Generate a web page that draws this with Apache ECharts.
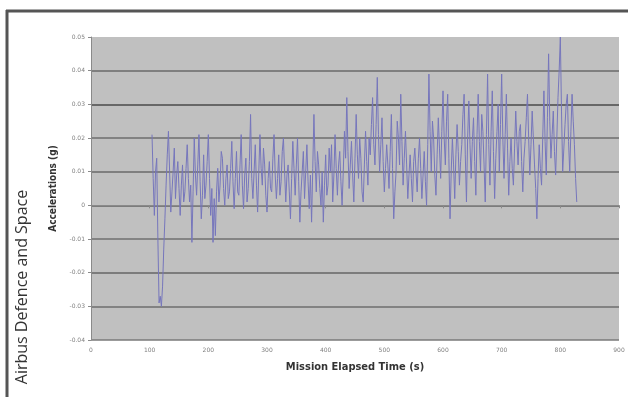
<!DOCTYPE html>
<html>
<head>
<meta charset="utf-8">
<script src="https://cdn.jsdelivr.net/npm/echarts@6/dist/echarts.min.js"></script>
<style>
  html, body { margin: 0; padding: 0; background: #fff; }
  #chart { width: 628px; height: 397px; }
</style>
</head>
<body>
<div id="chart"></div>
<script>
// sample times (s)
const times = [
  104, 106, 108, 110, 112, 114, 116, 118, 120, 122, 124, 126, 128, 130, 132, 134, 136, 138, 140, 142,
  144, 146, 148, 150, 152, 154, 156, 158, 160, 162, 164, 166, 168, 170, 172, 174, 176, 178, 180, 182,
  184, 186, 188, 190, 192, 194, 196, 198, 200, 202, 204, 206, 208, 210, 212, 214, 216, 218, 220, 222,
  224, 226, 228, 230, 232, 234, 236, 238, 240, 242, 244, 246, 248, 250, 252, 254, 256, 258, 260, 262,
  264, 266, 268, 270, 272, 274, 276, 278, 280, 282, 284, 286, 288, 290, 292, 294, 296, 298, 300, 302,
  304, 306, 308, 310, 312, 314, 316, 318, 320, 322, 324, 326, 328, 330, 332, 334, 336, 338, 340, 342,
  344, 346, 348, 350, 352, 354, 356, 358, 360, 362, 364, 366, 368, 370, 372, 374, 376, 378, 380, 382,
  384, 386, 388, 390, 392, 394, 396, 398, 400, 402, 404, 406, 408, 410, 412, 414, 416, 418, 420, 422,
  424, 426, 428, 430, 432, 434, 436, 438, 440, 442, 444, 446, 448, 450, 452, 454, 456, 458, 460, 462,
  464, 466, 468, 470, 472, 474, 476, 478, 480, 482, 484, 486, 488, 490, 492, 494, 496, 498, 500, 502,
  504, 506, 508, 510, 512, 514, 516, 518, 520, 522, 524, 526, 528, 530, 532, 534, 536, 538, 540, 542,
  544, 546, 548, 550, 552, 554, 556, 558, 560, 562, 564, 566, 568, 570, 572, 574, 576, 578, 580, 582,
  584, 586, 588, 590, 592, 594, 596, 598, 600, 602, 604, 606, 608, 610, 612, 614, 616, 618, 620, 622,
  624, 626, 628, 630, 632, 634, 636, 638, 640, 642, 644, 646, 648, 650, 652, 654, 656, 658, 660, 662,
  664, 666, 668, 670, 672, 674, 676, 678, 680, 682, 684, 686, 688, 690, 692, 694, 696, 698, 700, 702,
  704, 706, 708, 710, 712, 714, 716, 718, 720, 722, 724, 726, 728, 730, 732, 734, 736, 738, 740, 742,
  744, 746, 748, 750, 752, 754, 756, 758, 760, 762, 764, 766, 768, 770, 772, 774, 776, 778, 780, 782,
  784, 786, 788, 790, 792, 794, 796, 798, 800, 802, 804, 806, 808, 810, 812, 814, 816, 818, 820, 822,
  824, 826, 828
];

// accelerations (g)
const accel = [
  0.021, 0.008, -0.003, 0.010, 0.014, -0.010, -0.029, -0.027, -0.030, -0.024, -0.013, -0.004, 0.006, 0.015, 0.022, 0.010, -0.002, 0.004, 0.010, 0.017,
  0.002, 0.009, 0.013, 0.005, -0.003, 0.006, 0.012, 0.001, 0.004, 0.011, 0.018, 0.008, 0.001, 0.006, -0.011, 0.004, 0.020, 0.009, 0.003, 0.012,
  0.021, 0.007, -0.004, 0.003, 0.015, 0.002, 0.006, 0.013, 0.021, 0.008, -0.003, 0.005, -0.011, 0.002, -0.009, 0.004, 0.011, 0.001, 0.006, 0.016,
  0.014, 0.005, 0.000, 0.008, 0.012, 0.002, 0.004, 0.011, 0.019, 0.007, -0.001, 0.008, 0.016, 0.004, 0.003, 0.012, 0.021, 0.006, -0.001, 0.009,
  0.014, 0.001, 0.005, 0.013, 0.027, 0.008, 0.002, 0.010, 0.018, 0.006, -0.002, 0.010, 0.021, 0.011, 0.006, 0.017, 0.012, 0.003, -0.002, 0.008,
  0.013, 0.005, 0.004, 0.014, 0.021, 0.009, 0.002, 0.008, 0.015, 0.003, 0.007, 0.016, 0.020, 0.010, 0.001, 0.009, 0.012, 0.004, -0.004, 0.008,
  0.019, 0.011, 0.003, 0.012, 0.020, 0.007, -0.005, 0.004, 0.010, 0.016, 0.002, 0.010, 0.018, 0.007, -0.001, 0.009, -0.005, 0.011, 0.027, 0.013,
  0.004, 0.016, 0.012, 0.005, 0.000, 0.010, -0.005, 0.006, 0.015, 0.003, 0.006, 0.017, 0.010, 0.018, 0.001, 0.009, 0.021, 0.011, 0.003, 0.012,
  0.016, 0.007, 0.000, 0.010, 0.022, 0.014, 0.032, 0.016, 0.005, 0.012, 0.019, 0.009, 0.001, 0.014, 0.027, 0.015, 0.008, 0.020, 0.014, 0.004,
  0.001, 0.012, 0.022, 0.013, 0.006, 0.020, 0.015, 0.024, 0.032, 0.018, 0.012, 0.024, 0.038, 0.021, 0.010, 0.018, 0.026, 0.013, 0.004, 0.011,
  0.018, 0.012, 0.005, 0.016, 0.027, 0.011, -0.004, 0.004, 0.010, 0.025, 0.020, 0.012, 0.033, 0.019, 0.006, 0.014, 0.022, 0.012, 0.002, 0.009,
  0.015, 0.008, 0.001, 0.013, 0.017, 0.010, 0.004, 0.014, 0.020, 0.011, 0.002, 0.009, 0.016, 0.007, 0.000, 0.018, 0.039, 0.022, 0.010, 0.025,
  0.020, 0.009, 0.003, 0.015, 0.026, 0.017, 0.008, 0.022, 0.034, 0.020, 0.012, 0.025, 0.033, 0.014, -0.004, 0.010, 0.020, 0.012, 0.002, 0.015,
  0.024, 0.016, 0.006, 0.013, 0.018, 0.027, 0.033, 0.015, 0.001, 0.020, 0.031, 0.018, 0.008, 0.019, 0.026, 0.013, 0.003, 0.021, 0.033, 0.019,
  0.010, 0.027, 0.022, 0.012, 0.001, 0.021, 0.039, 0.018, 0.006, 0.022, 0.034, 0.016, 0.002, 0.014, 0.022, 0.030, 0.010, 0.024, 0.039, 0.020,
  0.008, 0.021, 0.033, 0.017, 0.003, 0.013, 0.020, 0.011, 0.006, 0.017, 0.028, 0.019, 0.012, 0.022, 0.024, 0.013, 0.004, 0.014, 0.019, 0.026,
  0.033, 0.020, 0.009, 0.018, 0.028, 0.020, 0.012, 0.005, -0.004, 0.008, 0.018, 0.011, 0.006, 0.020, 0.034, 0.019, 0.009, 0.026, 0.045, 0.025,
  0.014, 0.021, 0.028, 0.016, 0.009, 0.020, 0.032, 0.040, 0.050, 0.028, 0.010, 0.017, 0.024, 0.030, 0.033, 0.019, 0.010, 0.022, 0.033, 0.025,
  0.018, 0.008, 0.001
];

const chart = echarts.init(document.getElementById('chart'));

const fmtY = (v) => (Math.abs(v) < 1e-9 ? '0' : v.toFixed(2));

chart.setOption({
  backgroundColor: '#ffffff',
  animation: false,
  grid: {
    left: 91,
    top: 37,
    right: 9,
    bottom: 57,
    show: true,
    backgroundColor: '#c0c0c0',
    borderWidth: 0,
  },
  xAxis: {
    type: 'value',
    min: 0,
    max: 900,
    interval: 100,
    name: 'Mission Elapsed Time (s)',
    nameLocation: 'middle',
    nameGap: 22,
    nameTextStyle: { fontFamily: 'DejaVu Sans Condensed', fontWeight: 'bold', fontSize: 11, color: '#333' },
    axisLine: { lineStyle: { color: '#8a8a8a', width: 1 } },
    axisTick: { show: true, length: 3, lineStyle: { color: '#8a8a8a' } },
    axisLabel: { fontSize: 6, color: '#808080', margin: 7, fontFamily: 'DejaVu Sans' },
    splitLine: { show: false },
  },
  yAxis: {
    type: 'value',
    min: -0.04,
    max: 0.05,
    interval: 0.01,
    name: 'Accelerations (g)',
    nameLocation: 'middle',
    nameRotate: 90,
    nameGap: 23,
    nameTextStyle: { fontFamily: 'DejaVu Sans Condensed', fontWeight: 'bold', fontSize: 10, color: '#333' },
    axisLine: { show: true, lineStyle: { color: '#8a8a8a', width: 1 } },
    axisTick: { show: true, length: 3, lineStyle: { color: '#8a8a8a' } },
    axisLabel: { fontSize: 6, color: '#808080', margin: 6, formatter: fmtY, fontFamily: 'DejaVu Sans' },
    splitLine: {
      show: true,
      lineStyle: {
        color: ['#7a7a7a', '#6e6e6e', '#666666', '#707070', '#666666', '#6a6a6a', '#6e6e6e', '#4a4a4a', '#6a6a6a', 'rgba(0,0,0,0)'],
        width: 1.5,
      },
    },
  },
  series: [
    {
      type: 'line',
      data: times.map((t, i) => [t, accel[i]]),
      symbol: 'none',
      lineStyle: { color: '#7676bc', width: 1 },
    },
  ],
  graphic: [
    {
      type: 'line',
      shape: { x1: 6, y1: 11, x2: 628, y2: 11 },
      style: { stroke: '#555', lineWidth: 3 },
    },
    {
      type: 'line',
      shape: { x1: 7, y1: 10, x2: 7, y2: 397 },
      style: { stroke: '#555', lineWidth: 3 },
    },
    {
      type: 'text',
      x: 22,
      y: 287,
      rotation: Math.PI / 2,
      style: {
        text: 'Airbus Defence and Space',
        fontFamily: 'Open Sans',
        fontSize: 16,
        fill: '#333',
        align: 'center',
        verticalAlign: 'middle',
      },
    },
  ],
});
</script>
</body>
</html>
